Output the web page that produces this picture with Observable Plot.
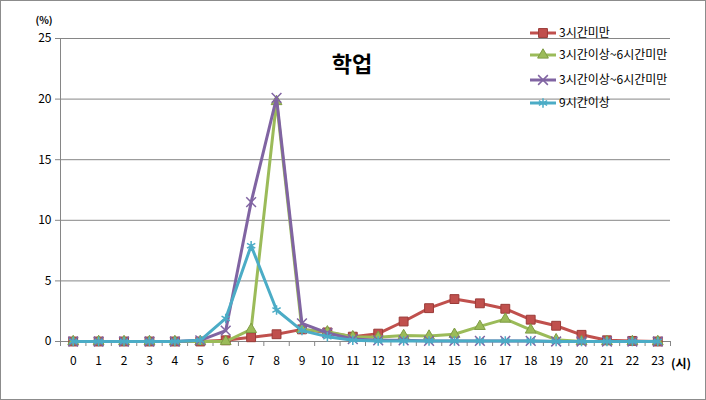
<!DOCTYPE html>
<html><head><meta charset="utf-8">
<script src="https://cdn.jsdelivr.net/npm/d3@7"></script>
<script src="https://cdn.jsdelivr.net/npm/@observablehq/plot@0.6"></script>
<style>
body{margin:0;background:#fff;font-family:"Noto Sans CJK KR","Noto Sans",sans-serif;}
#wrap{position:relative;width:706px;height:400px;overflow:hidden;}
#frame{position:absolute;left:0;top:0;width:706px;height:400px;box-sizing:border-box;border:1px solid #8c8c8c;pointer-events:none;}
.lbl{position:absolute;white-space:nowrap;color:#000;}
#title{left:352px;top:62px;transform:translate(-50%,-50%);font-size:22px;font-weight:bold;}
#yunit{left:44px;top:19px;transform:translate(-50%,-50%);font-size:10px;font-weight:bold;}
#xunit{left:681px;top:362px;transform:translate(-50%,-50%);font-size:12px;font-weight:bold;}
#legend{position:absolute;left:520px;top:18px;}
</style></head><body>
<div id="wrap">
  <div id="chart"></div>
  <div class="lbl" id="title">학업</div>
  <div class="lbl" id="yunit">(%)</div>
  <div class="lbl" id="xunit">(시)</div>
  <svg id="legend" width="186" height="100"></svg>
  <div id="frame"></div>
</div>
<script>
const hours = [0,1,2,3,4,5,6,7,8,9,10,11,12,13,14,15,16,17,18,19,20,21,22,23];
const xTickBounds = [-0.5,0.5,1.5,2.5,3.5,4.5,5.5,6.5,7.5,8.5,9.5,10.5,11.5,12.5,13.5,14.5,15.5,16.5,17.5,18.5,19.5,20.5,21.5,22.5,23.5];
const yTicks = [0,5,10,15,20,25];
const seriesNames = ["3시간미만","3시간이상~6시간미만","3시간이상~6시간미만","9시간이상"];
const under3  = [0,0,0,0,0,0,0.1,0.35,0.6,1.0,0.75,0.4,0.65,1.65,2.75,3.5,3.15,2.7,1.8,1.3,0.55,0.1,0.05,0];
const h3to6   = [0,0,0,0,0,0,0,1.0,19.8,1.0,0.8,0.4,0.35,0.5,0.45,0.6,1.25,1.85,0.95,0.15,0,0,0,0];
const h6to9   = [0,0,0,0,0,0.1,0.9,11.5,20.1,1.5,0.7,0.2,0.1,0.1,0.05,0.05,0.05,0.05,0.05,0,0,0,0,0];
const over9   = [0,0,0,0,0,0.1,1.9,7.9,2.6,0.9,0.4,0.1,0.05,0.05,0.05,0.05,0.05,0.05,0.05,0,0,0,0,0];
const seriesValues = [under3, h3to6, h6to9, over9];
const colors = ["#C0504D","#9BBB59","#8064A2","#4BACC6"];
const edgeColors = ["#9a3b38","#7f9c45","#8064A2","#4BACC6"];
const symbols = ["square","triangle","times","asterisk"];
const radii = [5, 4, 4.5, 4.5];

const rows = seriesValues.map((vals, i) => vals.map((v, j) => ({hour: hours[j], value: v, series: i})));

const gray = "#868686";
const marks = [
  Plot.gridY(yTicks.filter(d => d > 0), {stroke: gray, strokeOpacity: 1}),
  Plot.axisY({ticks: yTicks, tickSize: 5, tickPadding: 4, stroke: gray, fill: "#000", label: null, fontSize: 12}),
  Plot.ruleX([-0.5], {stroke: gray}),
  Plot.ruleY([0], {stroke: gray}),
  Plot.axisX({ticks: xTickBounds, tickSize: 5, tickFormat: () => "", stroke: gray, label: null}),
  Plot.axisX({ticks: hours, tickSize: 0, tickPadding: 15, fill: "#000", label: null, fontSize: 12})
];
rows.forEach((r, i) => {
  marks.push(Plot.line(r, {x: "hour", y: "value", stroke: colors[i], strokeWidth: 3, strokeLinejoin: "round"}));
  const filled = symbols[i] === "square" || symbols[i] === "triangle";
  marks.push(Plot.dot(r, filled
    ? {x: "hour", y: "value", symbol: symbols[i], r: radii[i], fill: colors[i], stroke: edgeColors[i], strokeWidth: 1}
    : {x: "hour", y: "value", symbol: symbols[i], r: radii[i], stroke: colors[i], strokeWidth: 1.5}));
});

const chart = Plot.plot({
  width: 706, height: 400,
  marginLeft: 60, marginRight: 36, marginTop: 38, marginBottom: 59,
  style: {fontFamily: '"Noto Sans CJK KR","Noto Sans",sans-serif', fontSize: "12px", color: "#000", background: "#fff", overflow: "visible"},
  x: {type: "linear", domain: [-0.5, 23.5]},
  y: {domain: [0, 25]},
  marks
});
document.getElementById("chart").appendChild(chart);

// legend
const leg = d3.select("#legend");
const rowY = [15, 37, 62, 85];
const sym = {square: d3.symbolSquare, triangle: d3.symbolTriangle, times: d3.symbolTimes, asterisk: d3.symbolAsterisk};
seriesNames.forEach((name, i) => {
  const g = leg.append("g").attr("transform", `translate(0,${rowY[i]})`);
  g.append("line").attr("x1", 10).attr("x2", 36).attr("y1", 0).attr("y2", 0)
    .attr("stroke", colors[i]).attr("stroke-width", 3);
  const filled = symbols[i] === "square" || symbols[i] === "triangle";
  g.append("path").attr("transform", "translate(23,0)")
    .attr("d", d3.symbol(sym[symbols[i]], Math.PI * radii[i] * radii[i])())
    .attr("fill", filled ? colors[i] : "none")
    .attr("stroke", filled ? edgeColors[i] : colors[i])
    .attr("stroke-width", filled ? 1 : 1.5);
  g.append("text").attr("x", 39).attr("y", 0).attr("dy", "0.35em")
    .attr("font-size", 12).attr("font-family", '"Noto Sans CJK KR","Noto Sans",sans-serif')
    .attr("fill", "#000").text(name);
});
</script>
</body></html>
